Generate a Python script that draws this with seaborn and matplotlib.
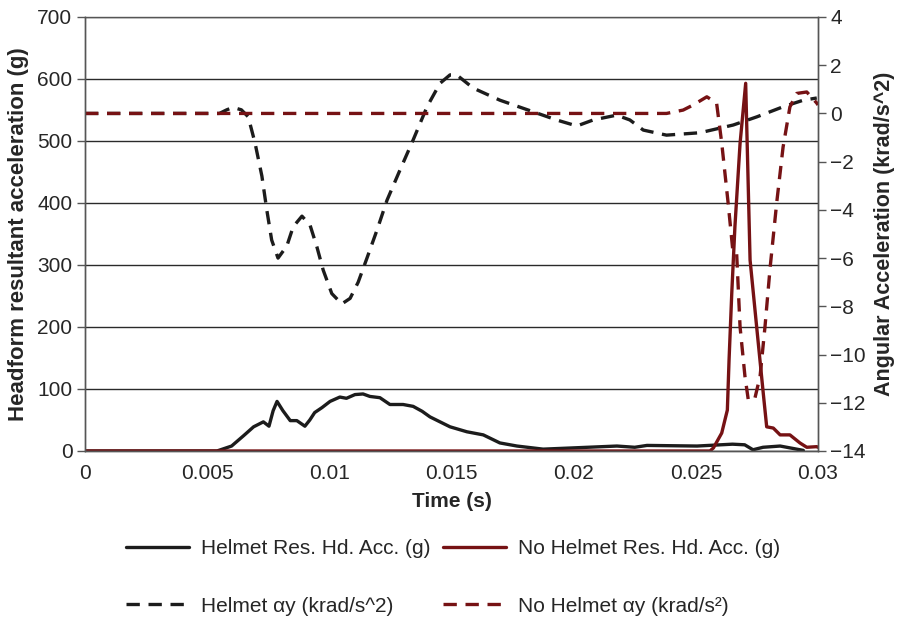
import numpy as np
import pandas as pd
import matplotlib
matplotlib.use("Agg")
import matplotlib.pyplot as plt
import seaborn as sns

# Helmet resultant headform acceleration (g)
t_helmet_res = [0, 0.0054, 0.006, 0.0065, 0.0069, 0.0073, 0.00753, 0.0077, 0.00786, 0.0081,
                0.0084, 0.00867, 0.009, 0.0092, 0.0094, 0.0097, 0.01003, 0.01043, 0.0107, 0.01105,
                0.01138, 0.01166, 0.01207, 0.01248, 0.01302, 0.01343, 0.0138, 0.01412, 0.01494, 0.01563,
                0.0163, 0.01698, 0.01768, 0.01875, 0.01997, 0.02177, 0.0225, 0.023, 0.02505, 0.0265,
                0.027, 0.02734, 0.02775, 0.02845, 0.0294]
helmet_res = [0, 0, 8, 25, 39, 47, 40, 65, 80, 65,
              49, 49, 40, 50, 62, 70, 80, 87, 85, 91,
              92, 88, 86, 75, 75, 72, 64, 55, 39, 31,
              26, 13, 8, 3, 5, 8, 6, 9, 8, 11,
              10, 2, 6, 8, 1]

# No helmet resultant headform acceleration (g)
t_nohelmet_res = [0, 0.02558, 0.02572, 0.02606, 0.02619, 0.02629, 0.02636, 0.02647, 0.0266, 0.02681,
                  0.02704, 0.02722, 0.02749, 0.02776, 0.0279, 0.02817, 0.02845, 0.02885, 0.02926, 0.02954,
                  0.02995, 0.03]
nohelmet_res = [0, 0, 5, 29, 50, 66, 147, 254, 362, 496,
                593, 308, 200, 93, 39, 37, 26, 26, 13, 6,
                7, 6]

# Helmet angular acceleration (krad/s^2)
t_helmet_ang = [0, 0.0055, 0.0058, 0.00606, 0.0064, 0.00668, 0.00696, 0.00724, 0.00744, 0.00764,
                0.0079, 0.00826, 0.00852, 0.00888, 0.00921, 0.00949, 0.00975, 0.0101, 0.01051, 0.01085,
                0.01118, 0.01154, 0.01195, 0.01236, 0.01289, 0.01343, 0.014, 0.01453, 0.01494, 0.01521,
                0.01589, 0.01698, 0.01834, 0.0193, 0.02013, 0.0208, 0.02176, 0.0223, 0.02285, 0.0238,
                0.02517, 0.02653, 0.0275, 0.02858, 0.0294, 0.02995]
helmet_ang = [0, 0, 0.15, 0.25, 0.15, -0.14, -1.23, -2.6, -4.0, -5.25,
              -6.0, -5.5, -4.7, -4.26, -4.63, -5.53, -6.5, -7.47, -7.9, -7.67,
              -7.0, -6.0, -4.84, -3.6, -2.35, -1.1, 0.28, 1.25, 1.6, 1.6,
              1.05, 0.55, 0.07, -0.27, -0.52, -0.27, -0.07, -0.27, -0.69, -0.9,
              -0.8, -0.48, -0.14, 0.28, 0.55, 0.64]

# No helmet angular acceleration (krad/s^2)
t_nohelmet_ang = [0, 0.0238, 0.02448, 0.02489, 0.02545, 0.02585, 0.02606, 0.02632, 0.02652, 0.02667,
                  0.02681, 0.02701, 0.02715, 0.02742, 0.02763, 0.02783, 0.02804, 0.02831, 0.02857, 0.02885,
                  0.02913, 0.02954, 0.02995, 0.03]
nohelmet_ang = [0, 0, 0.14, 0.35, 0.69, 0.43, -1.23, -3.7, -5.75, -5.8,
                -8.85, -10.9, -11.9, -11.8, -10.9, -8.85, -6.4, -3.7, -1.4, 0.27,
                0.83, 0.89, 0.43, 0.35]

black = "#1c1c1c"
red = "#761214"

sns.set_style("white")
plt.rcParams["font.family"] = ["Liberation Sans", "DejaVu Sans"]

fig = plt.figure(figsize=(9.01, 6.17), dpi=100)
ax = fig.add_axes([85 / 901, 1 - 451 / 617, (818 - 85) / 901, (451 - 17) / 617])
ax2 = ax.twinx()

sns.lineplot(x=t_helmet_res, y=helmet_res, ax=ax, color=black, linewidth=2.4,
             label="Helmet Res. Hd. Acc. (g)")
sns.lineplot(x=t_nohelmet_res, y=nohelmet_res, ax=ax, color=red, linewidth=2.4,
             label="No Helmet Res. Hd. Acc. (g)")
sns.lineplot(x=t_helmet_ang, y=helmet_ang, ax=ax2, color=black, linewidth=2.4,
             linestyle=(0, (4, 2.6)), label="Helmet \u03b1y (krad/s^2)")
sns.lineplot(x=t_nohelmet_ang, y=nohelmet_ang, ax=ax2, color=red, linewidth=2.4,
             linestyle=(0, (4, 2.6)), label="No Helmet \u03b1y (krad/s\u00b2)")

h1, l1 = ax.get_legend_handles_labels()
h2, l2 = ax2.get_legend_handles_labels()
ax.get_legend().remove()
ax2.get_legend().remove()

ax.set_xlim(0, 0.03)
ax.set_ylim(0, 700)
ax2.set_ylim(-14, 4)
ax.set_xticks([0, 0.005, 0.01, 0.015, 0.02, 0.025, 0.03])
ax.set_xticklabels(["0", "0.005", "0.01", "0.015", "0.02", "0.025", "0.03"])
ax.set_yticks(range(0, 701, 100))
ax2.set_yticks(range(-14, 5, 2))
ax2.set_yticklabels([str(v).replace("-", "\u2212") for v in range(-14, 5, 2)])

ax.yaxis.grid(True, color="#2a2a2a", linewidth=1.0)
ax.set_axisbelow(True)
for a in (ax, ax2):
    for s in a.spines.values():
        s.set_color("#555555")
        s.set_linewidth(1.0)
    a.tick_params(labelsize=15, length=6, width=1, color="#555555", direction="out", pad=3)
ax2.spines["top"].set_visible(False)
ax.tick_params(axis="x", length=4.5, pad=5)

ax.set_xlabel("Time (s)", fontsize=15, fontweight="bold", labelpad=6)
ax.set_ylabel("Headform resultant acceleration (g)", fontsize=16, fontweight="bold", labelpad=6)
ax2.set_ylabel("Angular Acceleration (krad/s^2)", fontsize=15.5, fontweight="bold", labelpad=6)

fig.legend([h1[0], h2[0], h1[1], h2[1]], [l1[0], l2[0], l1[1], l2[1]],
           ncol=2, loc="upper left", bbox_to_anchor=(126 / 901, 1 - 539 / 617),
           frameon=False, fontsize=15, handlelength=3.0, handletextpad=0.6,
           columnspacing=0.6, labelspacing=1.85, borderpad=0, borderaxespad=0)

fig.savefig("out.png", dpi=100)
